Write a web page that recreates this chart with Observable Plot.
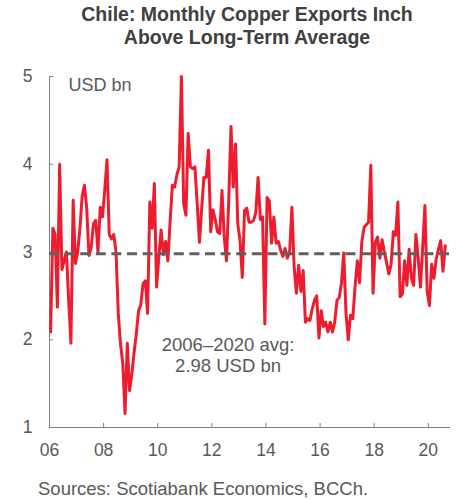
<!DOCTYPE html>
<html><head><meta charset="utf-8">
<script src="https://cdn.jsdelivr.net/npm/d3@7"></script>
<script src="https://cdn.jsdelivr.net/npm/@observablehq/plot@0.6"></script>
<style>
body{margin:0;background:#fff;font-family:"Liberation Sans",Arial,sans-serif;}
#wrap{width:466px;height:500px;position:relative;overflow:hidden;}
.title{padding:3px 0 0 28px;text-align:center;font-weight:bold;font-size:19.5px;line-height:23px;color:#404040;}
#chart{height:413px;}
.foot{padding-left:38px;font-size:18.5px;line-height:22px;color:#595959;margin-top:16px;}
</style></head><body>
<div id="wrap">
<div class="title">Chile: Monthly Copper Exports Inch<br>Above Long-Term Average</div>
<div id="chart"></div>
<div class="foot">Sources: Scotiabank Economics, BCCh.</div>
</div>
<script>
// Monthly copper exports, USD bn, starting January 2006
const startYear = 2006;
const copperExports = [
  2.09, 3.27, 3.2, 2.37, 4.0, 2.8, 2.9, 3.0, 2.45, 1.96, 3.59, 2.87,
  3.0, 3.27, 3.64, 3.76, 3.5, 2.96, 3.05, 3.32, 3.36, 3.0, 3.51, 3.4,
  3.7, 4.05, 3.2, 3.15, 3.2, 3.0, 2.3, 1.95, 1.73, 1.16, 1.96, 1.42,
  1.6, 1.85, 2.07, 2.33, 2.4, 2.64, 2.67, 2.3, 3.57, 3.27, 3.78, 2.6,
  2.95, 3.25, 2.97, 3.12, 2.9, 3.35, 3.76, 3.74, 3.88, 3.97, 5.0, 3.55,
  3.42, 4.35, 3.97, 3.95, 3.97, 3.55, 3.11, 3.5, 3.85, 3.85, 4.16, 3.23,
  3.48, 3.37, 3.23, 3.21, 3.7, 3.17, 2.9, 3.6, 4.43, 3.74, 4.23, 3.32,
  3.13, 2.71, 3.47, 3.5, 3.34, 3.34, 3.36, 3.45, 3.85, 3.37, 3.4, 2.18,
  3.62, 3.58, 3.1, 3.4, 3.1, 3.12, 3.02, 2.95, 3.04, 2.93, 3.0, 3.51,
  2.83, 2.53, 2.85, 2.55, 2.79, 2.2, 2.24, 2.22, 2.35, 2.45, 2.5, 2.02,
  2.33, 2.15, 2.2, 2.09, 2.2, 2.09, 2.2, 2.45, 2.48, 2.65, 2.99, 2.3,
  2.0, 2.28, 2.24, 2.6, 2.9, 2.65, 3.11, 3.28, 3.31, 3.34, 3.99, 2.53,
  3.11, 3.17, 2.93, 3.14, 3.0, 2.88, 2.75, 2.86, 3.23, 3.19, 3.57, 2.49,
  2.52, 2.9, 2.62, 3.03, 2.7, 2.62, 3.2, 2.93, 2.6, 3.05, 3.53, 2.55,
  2.39, 2.86, 2.7, 2.92, 3.03, 3.13, 2.78, 3.07
];
const longTermAverage = 2.98;
const yTicks = [1, 2, 3, 4, 5];
const yTickLabels = ["1", "2", "3", "4", "5"];
const xTicks = [2006, 2008, 2010, 2012, 2014, 2016, 2018, 2020];
const xTickLabels = ["06", "08", "10", "12", "14", "16", "18", "20"];
const unitLabel = "USD bn";
const averageLabel = "2006\u20132020 avg:\n2.98 USD bn";

const data = copperExports.map((v, i) => ({date: startYear + (i + 0.5) / 12, value: v}));

const chart = Plot.plot({
  width: 466,
  height: 413,
  marginTop: 27,
  marginBottom: 35,
  marginLeft: 49,
  marginRight: 16,
  x: {domain: [2006, 2020.82]},
  y: {domain: [1, 5]},
  style: {fontFamily: '"Liberation Sans", Arial, sans-serif', fontSize: "17.5px", color: "#595959", background: "#fff", overflow: "visible"},
  marks: [
    Plot.ruleX([xTicks[0]], {stroke: "#808080", strokeWidth: 1}),
    Plot.ruleY([yTicks[0]], {stroke: "#808080", strokeWidth: 1}),
    Plot.axisY({ticks: yTicks, tickSize: -4, tickPadding: 21, stroke: "#808080", fill: "#595959", label: null,
      tickFormat: d => yTickLabels[yTicks.indexOf(d)]}),
    Plot.axisX({ticks: xTicks, tickSize: -4, tickPadding: 20, stroke: "#808080", fill: "#595959", label: null,
      tickFormat: d => xTickLabels[xTicks.indexOf(d)]}),
    Plot.line(data, {x: "date", y: "value", stroke: "#ed1c2e", strokeWidth: 3, strokeLinejoin: "round"}),
    Plot.ruleY([longTermAverage], {stroke: "#606060", strokeWidth: 3, strokeDasharray: "10,5.6"}),
    Plot.text([unitLabel], {x: 2006.7, y: 4.9, textAnchor: "start", fontSize: 18, fill: "#595959"}),
    Plot.text([averageLabel], {x: 2012.6, y: 1.83, fontSize: 18.5, lineHeight: 1.15, fill: "#595959"})
  ]
});
document.getElementById("chart").appendChild(chart);
</script>
</body></html>
